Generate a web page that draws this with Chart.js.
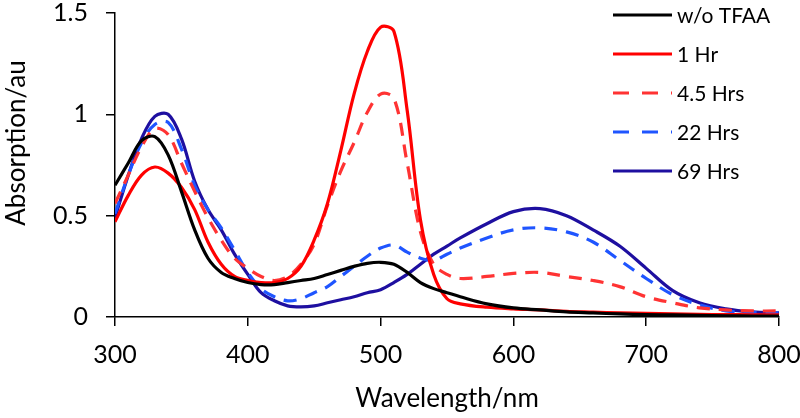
<!DOCTYPE html>
<html>
<head>
<meta charset="utf-8">
<script src="https://cdn.jsdelivr.net/npm/chart.js@4/dist/chart.umd.min.js"></script>
<style>
    html, body { margin: 0; padding: 0; background: #fff; }
    #wrap { width: 800px; height: 418px; position: relative; }
</style>
</head>
<body>
<div id="wrap"><canvas id="chart"></canvas></div>
<script>
// longitudes de onda (nm)
const wavelengths = [300, 310, 320, 330, 340, 350, 360, 370, 380, 390, 400, 410, 420, 430, 440, 450,
    460, 470, 480, 490, 500, 510, 520, 530, 540, 550, 560, 580, 600, 620, 640, 660, 680, 700, 720,
    740, 760, 780, 800];

const seriesLabels = ['w/o TFAA', '1 Hr', '4.5 Hrs', '22 Hrs', '69 Hrs'];

const sinTFAA = [0.65, 0.76, 0.87, 0.89, 0.80, 0.62, 0.43, 0.29, 0.22, 0.19, 0.17, 0.16, 0.16, 0.17,
    0.18, 0.19, 0.21, 0.23, 0.25, 0.265, 0.27, 0.26, 0.22, 0.17, 0.14, 0.12, 0.10, 0.065, 0.045,
    0.035, 0.025, 0.02, 0.015, 0.012, 0.01, 0.008, 0.006, 0.005, 0.005];

const hr1 = [0.47, 0.60, 0.70, 0.74, 0.71, 0.64, 0.53, 0.37, 0.26, 0.20, 0.18, 0.17, 0.17, 0.19,
    0.25, 0.38, 0.56, 0.82, 1.10, 1.31, 1.43, 1.41, 1.02, 0.48, 0.21, 0.09, 0.065, 0.048, 0.04,
    0.035, 0.028, 0.024, 0.02, 0.018, 0.015, 0.013, 0.012, 0.011, 0.01];

const hr4_5 = [0.56, 0.70, 0.84, 0.93, 0.90, 0.76, 0.62, 0.49, 0.38, 0.29, 0.24, 0.20, 0.18, 0.20,
    0.26, 0.36, 0.55, 0.72, 0.86, 1.01, 1.10, 1.08, 0.76, 0.42, 0.26, 0.21, 0.19, 0.20, 0.215,
    0.22, 0.20, 0.18, 0.15, 0.10, 0.07, 0.045, 0.035, 0.03, 0.03];

const hr22 = [0.51, 0.70, 0.86, 0.95, 0.96, 0.83, 0.65, 0.53, 0.44, 0.33, 0.22, 0.14, 0.10, 0.08,
    0.09, 0.12, 0.15, 0.20, 0.25, 0.30, 0.34, 0.355, 0.32, 0.29, 0.28, 0.31, 0.34, 0.39, 0.43,
    0.44, 0.42, 0.37, 0.28, 0.19, 0.11, 0.06, 0.03, 0.022, 0.02];

const hr69 = [0.49, 0.70, 0.88, 0.99, 1.00, 0.88, 0.67, 0.53, 0.43, 0.31, 0.21, 0.12, 0.08, 0.055,
    0.05, 0.055, 0.07, 0.085, 0.10, 0.12, 0.135, 0.17, 0.21, 0.26, 0.31, 0.35, 0.39, 0.46, 0.52,
    0.535, 0.50, 0.43, 0.35, 0.24, 0.13, 0.07, 0.04, 0.025, 0.02];

const xTicks = [300, 400, 500, 600, 700, 800];
const yTicks = [0, 0.5, 1, 1.5];

const FONT = 'Lato, "Open Sans", sans-serif';

const toPoints = vals => wavelengths.map((w, i) => ({ x: w, y: vals[i] }));

const mkSet = (label, vals, color, dash) => ({
    label,
    data: toPoints(vals),
    borderColor: color,
    backgroundColor: color,
    borderWidth: 3.2,
    borderDash: dash || [],
    pointRadius: 0,
    tension: 0.35,
    fill: false
});

// leyenda dentro del área de trazado + título del eje Y
const extras = {
    id: 'extras',
    afterDatasetsDraw(chart) {
        const ctx = chart.ctx;
        ctx.save();
        ctx.font = '21px ' + FONT;
        ctx.textBaseline = 'middle';
        chart.data.datasets.forEach((ds, i) => {
            const y = 15 + i * 39;
            ctx.beginPath();
            ctx.strokeStyle = ds.borderColor;
            ctx.lineWidth = 3.2;
            ctx.setLineDash(ds.borderDash.length ? [16, 13] : []);
            ctx.moveTo(613, y);
            ctx.lineTo(672, y);
            ctx.stroke();
            ctx.setLineDash([]);
            ctx.fillStyle = '#000';
            ctx.fillText(ds.label, 677, y + 1);
        });

        // título vertical
        ctx.translate(17, 143);
        ctx.rotate(-Math.PI / 2);
        ctx.textAlign = 'center';
        ctx.font = '26px ' + FONT;
        ctx.fillText('Absorption/au', 0, 0);
        ctx.restore();
    }
};

new Chart(document.getElementById('chart'), {
    type: 'line',
    data: {
        datasets: [
            mkSet(seriesLabels[0], sinTFAA, '#000000'),
            mkSet(seriesLabels[1], hr1, '#ff0000'),
            mkSet(seriesLabels[2], hr4_5, '#ff3333', [13, 9]),
            mkSet(seriesLabels[3], hr22, '#1f55ff', [13, 9]),
            mkSet(seriesLabels[4], hr69, '#1e0fa0')
        ]
    },
    options: {
        responsive: true,
        maintainAspectRatio: false,
        animation: false,
        layout: { padding: { top: 13, right: 21, left: 0, bottom: 0 } },
        plugins: {
            legend: { display: false },
            tooltip: { enabled: false }
        },
        scales: {
            x: {
                type: 'linear',
                min: 300,
                max: 800,
                afterFit: s => { s.height = 101; s.paddingLeft = 0; s.paddingRight = 0; },
                afterBuildTicks: s => { s.ticks = xTicks.map(v => ({ value: v })); },
                ticks: { color: '#000', font: { size: 25, family: FONT }, padding: 14, maxRotation: 0 },
                grid: { display: true, drawOnChartArea: false, tickLength: 9, color: '#000', lineWidth: 1.5 },
                border: { color: '#000', width: 1.5 },
                title: { display: true, text: 'Wavelength/nm', color: '#000', font: { size: 26, family: FONT }, padding: { top: 0 } }
            },
            y: {
                min: 0,
                max: 1.5,
                afterFit: s => { s.width = 115; s.paddingTop = 0; s.paddingBottom = 0; },
                afterBuildTicks: s => { s.ticks = yTicks.map(v => ({ value: v })); },
                ticks: { color: '#000', font: { size: 25, family: FONT }, padding: 18, callback: v => String(v) },
                grid: { display: true, drawOnChartArea: false, tickLength: 9, color: '#000', lineWidth: 1.5 },
                border: { color: '#000', width: 1.5 },
                title: { display: false }
            }
        }
    },
    plugins: [extras]
});
</script>
</body>
</html>
